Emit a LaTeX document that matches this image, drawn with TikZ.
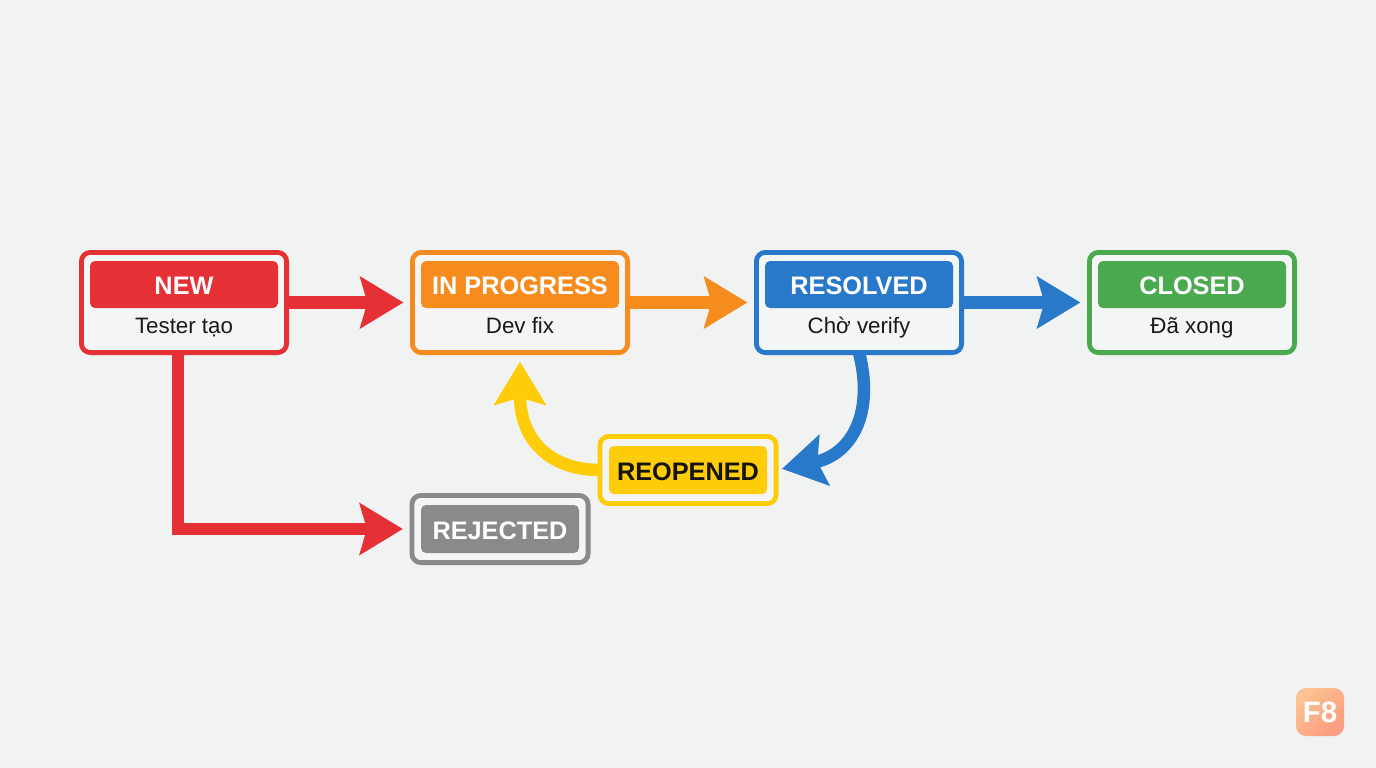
\documentclass[tikz,border=0pt]{standalone}
\usepackage{fontspec}
\setmainfont{Liberation Sans}
\usetikzlibrary{arrows.meta}
\definecolor{bgc}{HTML}{F1F2F2}
\definecolor{inner}{HTML}{F4F5F5}
\definecolor{cred}{HTML}{E53035}
\definecolor{corange}{HTML}{F68C1E}
\definecolor{cblue}{HTML}{2879C9}
\definecolor{cgreen}{HTML}{4BAA50}
\definecolor{cyellow}{HTML}{FFCC0A}
\definecolor{cgrey}{HTML}{8A8A8A}
\definecolor{logoa}{HTML}{FDC292}
\definecolor{logob}{HTML}{FB9C80}
\tikzset{
  box/.style={draw=#1,fill=inner,line width=4.8pt,rounded corners=9pt,inner sep=0pt,outer sep=0pt,minimum width=205.2pt,minimum height=100.2pt},
  smallbox/.style={draw=#1,fill=inner,line width=4.8pt,rounded corners=9pt,inner sep=0pt,outer sep=0pt,minimum width=176.2pt,minimum height=67.2pt},
  head/.style={fill=#1,rounded corners=5pt,inner sep=0pt,minimum width=188pt,minimum height=47pt,text=white,text height=20pt,text depth=0pt,font=\fontsize{25.3}{25.3}\selectfont\bfseries},
  smallhead/.style={head=#1,minimum width=158pt,minimum height=48pt},
  sub/.style={inner sep=0pt,text=black!90,text height=16pt,text depth=5pt,font=\fontsize{22.3}{22.3}\selectfont},
  conn/.style={draw=#1,line width=12.5pt,-{Stealth[length=43pt,width=51pt,inset=7pt,fill=#1]},shorten >=9pt},
}
\begin{document}
\begin{tikzpicture}[x=1pt,y=-1pt]
\useasboundingbox (0,0) rectangle (1376,768);
\fill[bgc] (0,0) rectangle (1376,768);
% outer boxes
\node[box=cred]    (new)  at (184,302.5) {};
\node[box=corange,minimum width=215.2pt] (prog) at (520,302.5) {};
\node[box=cblue]   (res)  at (859,302.5) {};
\node[box=cgreen]  (clo)  at (1192,302.5) {};
\node[smallbox=cyellow] (reo) at (688,470) {};
\node[smallbox=cgrey]   (rej) at (500,529) {};
% headers
\node[head=cred]    (newh)  at (184,284.5) {NEW};
\node[head=corange,minimum width=198pt] (progh) at (520,284.5) {IN PROGRESS};
\node[head=cblue]   (resh)  at (859,284.5) {RESOLVED};
\node[head=cgreen]  (cloh)  at (1192,284.5) {CLOSED};
\node[smallhead=cyellow,text=black!92] (reoh) at (688,470) {REOPENED};
\node[smallhead=cgrey]   (rejh) at (500,529) {REJECTED};
% sub-labels
\node[sub] (news) at (184,327.5) {Tester tạo};
\node[sub] (progs) at (520,327.5) {Dev fix};
\node[sub] (ress) at (859,327.5) {Chờ verify};
\node[sub] (clos) at (1192,327.5) {Đã xong};
% connectors
\draw[conn=cred] (new) -- (prog);
\draw[conn=corange] (prog) -- (res);
\draw[conn=cblue] (res) -- (clo);
\draw[conn=cred] ([xshift=-6pt]new.south) |- (rej.west);
\draw[conn=cblue,shorten >=6pt] (res.south) .. controls (875,415) and (850,455) .. (reo.east);
\draw[conn=cyellow] (reo.west) .. controls (550,470) and (520,440) .. (prog.south);
% logo
\node[rounded corners=10pt,minimum size=48pt,inner sep=0pt,shading=axis,top color=logoa,bottom color=logob,shading angle=45,text=white,font=\fontsize{29.5}{29.5}\selectfont\bfseries] (logo) at (1320,712) {F8};
\end{tikzpicture}
\end{document}
